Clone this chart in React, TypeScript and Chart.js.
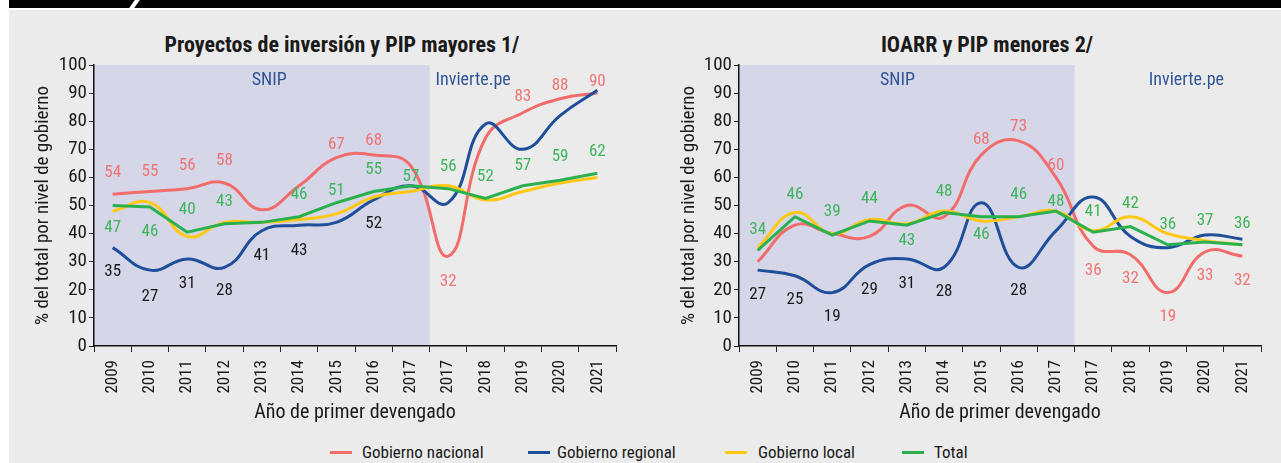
import React, { useEffect, useRef } from "react";
import { Chart, registerables } from "chart.js";

Chart.register(...registerables);

const FONT = "'Roboto Condensed', Roboto, sans-serif";

const years = ["2009", "2010", "2011", "2012", "2013", "2014", "2015", "2016", "2017", "2017", "2018", "2019", "2020", "2021"];

// Proyectos de inversión y PIP mayores
const mayNacional = [54, 55, 56, 58, 48.5, 57, 67, 68, 64, 32, 74, 83, 88, 90];
const mayRegional = [35, 27, 31, 28, 41, 43, 44, 52, 57, 51, 79, 70, 82, 91];
const mayLocal = [48, 51, 39, 44, 44, 45, 47, 53, 55, 57, 52, 55, 58, 60];
const mayTotal = [50, 49.5, 40.5, 43.5, 44, 46, 51, 55, 57, 56, 52.5, 57, 59, 61.5];
const mayNacionalLbl = ["54", "55", "56", "58", "", "", "67", "68", "", "32", "", "83", "88", "90"];
const mayRegionalLbl = ["35", "27", "31", "28", "41", "43", "", "52", "", "", "", "", "", ""];
const mayTotalLbl = ["47", "46", "40", "43", "", "46", "51", "55", "57", "56", "52", "57", "59", "62"];

// IOARR y PIP menores
const menNacional = [30, 43, 40, 39, 50, 46, 68, 73, 60, 35.5, 32.5, 19, 33.5, 32];
const menRegional = [27, 25, 19, 29, 31, 28, 51, 28, 41, 53, 39, 35, 39.5, 38];
const menLocal = [35, 47.5, 40, 45, 43.5, 48, 44.5, 46, 48, 41, 46, 40, 37.5, 36];
const menTotal = [34, 46, 39.5, 44.5, 43, 47.5, 46, 46, 48, 40.5, 42.5, 36, 37, 36];
const menNacionalLbl = ["", "", "", "", "", "", "68", "73", "60", "36", "32", "19", "33", "32"];
const menRegionalLbl = ["27", "25", "19", "29", "31", "28", "", "28", "", "", "", "", "", ""];
const menTotalLbl = ["34", "46", "39", "44", "43", "48", "46", "46", "48", "41", "42", "36", "37", "36"];

const seriesNames = ["Gobierno nacional", "Gobierno regional", "Gobierno local", "Total"];

const C_NAC = "#f26c6c";
const C_REG = "#1f4e9b";
const C_LOC = "#ffc814";
const C_TOT = "#2bb04f";
const C_NAC_TXT = "#f07474";
const C_REG_TXT = "#1a1a1a";
const C_TOT_TXT = "#3db55a";
const C_BAND = "#d5d6e8";
const C_ZONE_TXT = "#2f5597";
const C_TEXT = "#1a1a1a";

type Spec = {
  nac: number[]; reg: number[]; loc: number[]; tot: number[];
  nacLbl: string[]; regLbl: string[]; totLbl: string[];
  nacOff: number[]; regOff: number[]; totOff: number[];
  yAxisWidth: number; padRight: number; yTitlePad: number;
  snipIdx: number; invIdx: number; invAlign: CanvasTextAlign; invDx: number;
};

function makeConfig(s: Spec): any {
  const bandPlugin = {
    id: "band",
    beforeDraw(chart: any) {
      const { ctx, chartArea: a, scales } = chart;
      const xb = scales.x.getPixelForValue(8.5);
      ctx.save();
      ctx.fillStyle = C_BAND;
      ctx.fillRect(a.left, a.top, xb - a.left, a.bottom - a.top);
      ctx.restore();
    },
    beforeDatasetsDraw(chart: any) {
      const { ctx, chartArea: a, scales } = chart;
      ctx.save();
      ctx.font = `18px ${FONT}`;
      ctx.fillStyle = C_ZONE_TXT;
      ctx.textBaseline = "middle";
      ctx.textAlign = "center";
      ctx.fillText("SNIP", scales.x.getPixelForValue(s.snipIdx), a.top + 15);
      ctx.textAlign = s.invAlign;
      ctx.fillText("Invierte.pe", scales.x.getPixelForValue(s.invIdx) + s.invDx, a.top + 15);
      ctx.restore();
    },
  };
  const labelPlugin = {
    id: "pointLabels",
    afterDatasetsDraw(chart: any) {
      const { ctx } = chart;
      ctx.save();
      ctx.font = `17px ${FONT}`;
      ctx.textAlign = "center";
      ctx.textBaseline = "middle";
      chart.data.datasets.forEach((ds: any, i: number) => {
        if (!ds.lblText) return;
        const meta = chart.getDatasetMeta(i);
        ctx.fillStyle = ds.lblColor;
        meta.data.forEach((pt: any, j: number) => {
          const t = ds.lblText[j];
          if (!t) return;
          ctx.fillText(t, pt.x, pt.y + ds.lblOff[j]);
        });
      });
      ctx.restore();
    },
  };
  const common = { borderWidth: 3, pointRadius: 0, pointHoverRadius: 0, fill: false };
  return {
    type: "line",
    data: {
      labels: years,
      datasets: [
        { ...common, label: seriesNames[0], data: s.nac, borderColor: C_NAC, tension: 0.45, order: 3, lblText: s.nacLbl, lblOff: s.nacOff, lblColor: C_NAC_TXT },
        { ...common, label: seriesNames[1], data: s.reg, borderColor: C_REG, tension: 0.45, order: 2, lblText: s.regLbl, lblOff: s.regOff, lblColor: C_REG_TXT },
        { ...common, label: seriesNames[2], data: s.loc, borderColor: C_LOC, tension: 0.45, order: 1 },
        { ...common, label: seriesNames[3], data: s.tot, borderColor: C_TOT, tension: 0, order: 0, lblText: s.totLbl, lblOff: s.totOff, lblColor: C_TOT_TXT },
      ],
    },
    options: {
      responsive: false,
      animation: false,
      devicePixelRatio: 1,
      events: [],
      layout: { padding: { top: 65, right: s.padRight, bottom: 0, left: 0 } },
      plugins: { legend: { display: false }, tooltip: { enabled: false }, title: { display: false } },
      scales: {
        x: {
          type: "category",
          offset: true,
          grid: { display: true, drawOnChartArea: false, drawTicks: true, tickLength: 6, color: "#222", lineWidth: 1, offset: true },
          border: { display: true, color: "#111", width: 1.5 },
          ticks: { autoSkip: false, minRotation: 90, maxRotation: 90, padding: 8, color: C_TEXT, font: { family: FONT, size: 17 } },
          title: { display: true, text: "Año de primer devengado", color: C_TEXT, font: { family: FONT, size: 20 }, padding: { top: 0, bottom: 7 } },
          afterFit: (sc: any) => { sc.height = 86; },
        },
        y: {
          min: 0,
          max: 100,
          grid: { display: true, drawOnChartArea: false, drawTicks: true, tickLength: 5, color: "#222", lineWidth: 1 },
          border: { display: true, color: "#111", width: 1.5 },
          ticks: { stepSize: 10, padding: 2, color: C_TEXT, font: { family: FONT, size: 19 } },
          title: { display: true, text: "% del total por nivel de gobierno", color: C_TEXT, font: { family: FONT, size: 19 }, padding: { top: s.yTitlePad, bottom: 0 } },
          afterFit: (sc: any) => { sc.width = s.yAxisWidth; },
        },
      },
    },
    plugins: [bandPlugin, labelPlugin],
  };
}

const leftSpec: Spec = {
  nac: mayNacional, reg: mayRegional, loc: mayLocal, tot: mayTotal,
  nacLbl: mayNacionalLbl, regLbl: mayRegionalLbl, totLbl: mayTotalLbl,
  nacOff: [-22, -20, -23, -22, 0, 0, -13, -14, 0, 26, 0, -16, -13, -11],
  regOff: [24, 27, 25, 23, 25, 26, 0, 24, 0, 0, 0, 0, 0, 0],
  totOff: [22, 25, -22, -22, 0, -22, -12, -22, -9, -22, -22, -20, -23, -21],
  yAxisWidth: 94, padRight: 24, yTitlePad: 31.6,
  snipIdx: 4.2, invIdx: 8.5, invAlign: "left", invDx: 6,
};

const rightSpec: Spec = {
  nac: menNacional, reg: menRegional, loc: menLocal, tot: menTotal,
  nacLbl: menNacionalLbl, regLbl: menRegionalLbl, totLbl: menTotalLbl,
  nacOff: [0, 0, 0, 0, 0, 0, -15, -14, -12, 25, 24, 24, 24, 25],
  regOff: [25, 24, 24, 25, 25, 24, 0, 23, 0, 0, 0, 0, 0, 0],
  totOff: [-21, -22, -23, -22, 16, -21, 18, -22, -9, -20, -23, -20, -21, -21],
  yAxisWidth: 99, padRight: 20, yTitlePad: 37.6,
  snipIdx: 3.75, invIdx: 11.5, invAlign: "center", invDx: 0,
};

function LineChart({ spec, left, width }: { spec: Spec; left: number; width: number }) {
  const ref = useRef<HTMLCanvasElement>(null);
  useEffect(() => {
    const chart = new Chart(ref.current as HTMLCanvasElement, makeConfig(spec));
    return () => chart.destroy();
  }, []);
  return (
    <canvas
      ref={ref}
      width={width}
      height={432}
      style={{ position: "absolute", left, top: 0, width, height: 432 }}
    />
  );
}

const legendItems = [
  { name: seriesNames[0], color: C_NAC, lineX: 330, textX: 362 },
  { name: seriesNames[1], color: C_REG, lineX: 528, textX: 557 },
  { name: seriesNames[2], color: C_LOC, lineX: 725, textX: 758 },
  { name: seriesNames[3], color: C_TOT, lineX: 902, textX: 934 },
];

export default function App() {
  return (
    <div style={{ position: "absolute", left: 0, top: 0, width: 1281, height: 463, background: "#fff", overflow: "hidden", fontFamily: FONT }}>
      <div style={{ position: "absolute", left: 9, top: 10, right: 0, bottom: 0, background: "#ebebeb" }} />
      <div style={{ position: "absolute", left: 9, top: 0, right: 0, height: 8, background: "#000" }} />
      <div style={{ position: "absolute", left: 132, top: 0, width: 5, height: 8, background: "#fff", transform: "skewX(-35deg)" }} />
      <div style={{ position: "absolute", left: 42, width: 600, top: 32, textAlign: "center", fontWeight: "bold", fontSize: 22, lineHeight: "26px", color: C_TEXT }}>
        Proyectos de inversión y PIP mayores 1/
      </div>
      <div style={{ position: "absolute", left: 687, width: 600, top: 32, textAlign: "center", fontWeight: "bold", fontSize: 22, lineHeight: "26px", color: C_TEXT }}>
        IOARR y PIP menores 2/
      </div>
      <LineChart spec={leftSpec} left={0} width={640} />
      <LineChart spec={rightSpec} left={640} width={641} />
      {legendItems.map((it) => (
        <React.Fragment key={it.name}>
          <div style={{ position: "absolute", left: it.lineX, top: 451, width: 22, height: 3, background: it.color }} />
          <div style={{ position: "absolute", left: it.textX, top: 442, fontSize: 17, lineHeight: "20px", color: C_TEXT, whiteSpace: "nowrap" }}>
            {it.name}
          </div>
        </React.Fragment>
      ))}
    </div>
  );
}
